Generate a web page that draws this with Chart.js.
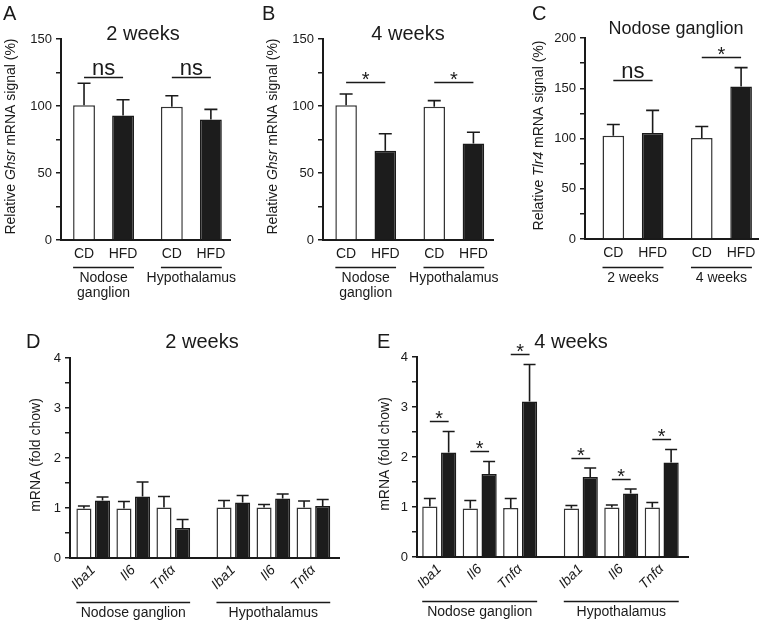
<!DOCTYPE html>
<html>
<head>
<meta charset="utf-8">
<script src="https://cdn.jsdelivr.net/npm/chart.js@4.4.1/dist/chart.umd.min.js"></script>
<style>
  body { margin: 0; background: #fff; }
  #fig { position: relative; width: 763px; height: 622px; overflow: hidden; background: #fff; }
  canvas { position: absolute; }
</style>
</head>
<body>
<div id="fig">
  <canvas id="cA" width="245" height="310" style="left:0;top:0"></canvas>
  <canvas id="cB" width="255" height="310" style="left:245px;top:0"></canvas>
  <canvas id="cC" width="263" height="310" style="left:500px;top:0"></canvas>
  <canvas id="cD" width="370" height="302" style="left:0;top:320px"></canvas>
  <canvas id="cE" width="393" height="302" style="left:370px;top:320px"></canvas>
</div>
<script>
// ---- data ----
var diets = ['CD', 'HFD', 'CD', 'HFD'];
var tissueGroups = [['Nodose', 'ganglion'], 'Hypothalamus'];
var weekGroups = ['2 weeks', '4 weeks'];

var ghsr2wk = [100.5, 93, 99.5, 90];
var ghsr2wkErr = [16.5, 11.7, 8.2, 7.5];
var sig2wk = ['ns', 'ns'];
var sig2wkAt = [122, 122];

var ghsr4wk = [100.5, 66.6, 99.5, 72];
var ghsr4wkErr = [8.5, 12.7, 4.5, 8.4];
var sig4wk = ['*', '*'];
var sig4wkAt = [118, 118];

var tlr4 = [102.8, 105.5, 100.5, 151.8];
var tlr4Err = [11.2, 22.5, 11.5, 18.7];
var sigTlr4 = ['ns', '*'];
var sigTlr4At = [158, 181];

var genes = ['Iba1', 'Il6', 'Tnfα', 'Iba1', 'Il6', 'Tnfα'];
var tissues = ['Nodose ganglion', 'Hypothalamus'];

var cd2wk = [0.99, 0.99, 1.01, 1.01, 1.01, 1.01];
var cd2wkErr = [0.05, 0.14, 0.22, 0.14, 0.06, 0.13];
var hfd2wk = [1.15, 1.23, 0.60, 1.11, 1.19, 1.04];
var hfd2wkErr = [0.07, 0.29, 0.17, 0.14, 0.09, 0.13];

var cd4wk = [1.01, 0.97, 0.98, 0.97, 0.99, 0.99];
var cd4wkErr = [0.16, 0.16, 0.19, 0.06, 0.05, 0.10];
var hfd4wk = [2.09, 1.66, 3.11, 1.60, 1.27, 1.89];
var hfd4wkErr = [0.42, 0.25, 0.74, 0.18, 0.09, 0.26];
var sig4wkGenes = ['*', '*', '*', '*', '*', '*'];
var sig4wkGenesAt = [2.73, 2.12, 4.06, 1.99, 1.56, 2.36];

// ---- styling ----
var FONT = "'Liberation Sans', Arial, Helvetica, sans-serif";
var INK = '#1a1a1a';
var WHITE = '#ffffff';
var BLACK = '#1c1c1c';

// bar slots: items side by side, an extra gap between groups
function slotPositions(n, perGroup, gap) {
    var xs = [];
    for (var i = 0; i < n; i++) {
        xs.push(Math.floor(i / perGroup) * (perGroup + gap) + (i % perGroup));
    }
    return xs;
}

function decoPlugin(cfg) {
    return {
        id: 'deco',
        afterDatasetsDraw: function(chart) {
            var ctx = chart.ctx, y = chart.scales.y;
            ctx.save();
            ctx.strokeStyle = INK;
            ctx.lineWidth = 1.6;
            chart.data.datasets.forEach(function(ds, di) {
                chart.getDatasetMeta(di).data.forEach(function(bar, i) {
                    var top = y.getPixelForValue(ds.data[i].y + ds.err[i]);
                    ctx.beginPath();
                    ctx.moveTo(bar.x, bar.y);
                    ctx.lineTo(bar.x, top);
                    ctx.moveTo(bar.x - cfg.cap / 2, top);
                    ctx.lineTo(bar.x + cfg.cap / 2, top);
                    ctx.stroke();
                });
            });
            ctx.restore();
        },
        afterDraw: function(chart) {
            var ctx = chart.ctx, ca = chart.chartArea, y = chart.scales.y;
            var bars = [];
            chart.data.datasets.forEach(function(ds, di) {
                chart.getDatasetMeta(di).data.forEach(function(b) { bars.push(b); });
            });
            bars.sort(function(a, b) { return a.x - b.x; });

            ctx.save();
            ctx.fillStyle = INK;
            ctx.strokeStyle = INK;

            // panel letter and title
            ctx.textAlign = 'left';
            ctx.textBaseline = 'alphabetic';
            ctx.font = '20px ' + FONT;
            ctx.fillText(cfg.letter, cfg.letterX, cfg.letterY);
            ctx.textAlign = 'center';
            ctx.font = cfg.titleSize + 'px ' + FONT;
            ctx.fillText(cfg.title, cfg.titleX, cfg.titleY);

            // y axis title, with italic gene name
            ctx.save();
            ctx.translate(cfg.yTitleX, (ca.top + ca.bottom) / 2 - 3);
            ctx.rotate(-Math.PI / 2);
            var fontOf = function(it) { return (it ? 'italic ' : '') + '14px ' + FONT; };
            var total = 0;
            cfg.yTitle.forEach(function(p) { ctx.font = fontOf(p[1]); total += ctx.measureText(p[0]).width; });
            var xx = -total / 2;
            ctx.textAlign = 'left';
            ctx.textBaseline = 'middle';
            cfg.yTitle.forEach(function(p) {
                ctx.font = fontOf(p[1]);
                ctx.fillText(p[0], xx, 0);
                xx += ctx.measureText(p[0]).width;
            });
            ctx.restore();

            // significance brackets over each CD/HFD pair
            ctx.textAlign = 'center';
            ctx.textBaseline = 'alphabetic';
            (cfg.sig || []).forEach(function(s, k) {
                if (!s) return;
                var a = bars[2 * k], b = bars[2 * k + 1];
                var ly = Math.round(y.getPixelForValue(cfg.sigAt[k])) + 0.5;
                ctx.lineWidth = 1.5;
                ctx.beginPath();
                ctx.moveTo(a.x, ly);
                ctx.lineTo(b.x, ly);
                ctx.stroke();
                var mid = (a.x + b.x) / 2;
                if (s === 'ns') {
                    ctx.font = '22px ' + FONT;
                    ctx.fillText(s, mid, ly - 3);
                } else {
                    ctx.font = '20px ' + FONT;
                    ctx.fillText(s, mid, ly + 3);
                }
            });

            // group underlines and names
            var per = bars.length / cfg.groups.length;
            cfg.groups.forEach(function(g, k) {
                var first = bars[k * per], last = bars[k * per + per - 1];
                var x0 = first.x - first.width / 2, x1 = last.x + last.width / 2;
                var gy = Math.round(ca.bottom + cfg.groupDy) + 0.5;
                ctx.lineWidth = 1.5;
                ctx.beginPath();
                ctx.moveTo(x0, gy);
                ctx.lineTo(x1, gy);
                ctx.stroke();
                ctx.font = '14px ' + FONT;
                ctx.textBaseline = 'middle';
                var lines = Array.isArray(g) ? g : [g];
                lines.forEach(function(t, j) { ctx.fillText(t, (x0 + x1) / 2, gy + 11 + j * 15); });
            });
            ctx.restore();
        }
    };
}

function panel(id, cfg) {
    var xs = slotPositions(cfg.labels.length, cfg.perGroup, cfg.gap);
    var datasets = cfg.series.map(function(s) {
        return {
            data: s.values.map(function(v, i) { return { x: xs[i], y: v }; }),
            err: s.err,
            backgroundColor: s.fill,
            borderColor: s.edge,
            borderWidth: 1.5,
            barPercentage: cfg.barPct,
            categoryPercentage: cfg.catPct
        };
    });
    return new Chart(document.getElementById(id), {
        type: 'bar',
        data: { datasets: datasets },
        options: {
            responsive: false,
            animation: false,
            layout: { padding: cfg.padding },
            plugins: { legend: { display: false }, tooltip: { enabled: false } },
            scales: {
                x: {
                    type: 'linear',
                    min: cfg.xMin,
                    max: cfg.xMax,
                    offset: false,
                    afterBuildTicks: function(s) { s.ticks = xs.map(function(v) { return { value: v }; }); },
                    afterFit: function(s) { s.height = cfg.xAxisH; },
                    grid: { display: false, drawTicks: false, offset: false },
                    border: { color: INK, width: 2 },
                    ticks: {
                        autoSkip: false,
                        minRotation: cfg.rot,
                        maxRotation: cfg.rot,
                        padding: cfg.xPad,
                        color: INK,
                        font: { family: FONT, size: 14, style: cfg.italic ? 'italic' : 'normal' },
                        callback: function(v, i) { return cfg.labels[i]; }
                    }
                },
                y: {
                    min: 0,
                    max: cfg.yMax,
                    afterFit: function(s) { s.width = cfg.yAxisW; },
                    border: { color: INK, width: 2 },
                    grid: { drawOnChartArea: false, tickLength: 5, color: INK, lineWidth: 1.5 },
                    ticks: {
                        stepSize: cfg.yStep / 2,
                        padding: 4,
                        color: INK,
                        font: { family: FONT, size: 13 },
                        callback: function(v) {
                            var r = v / cfg.yStep;
                            return Math.abs(r - Math.round(r)) < 1e-9 ? v : '';
                        }
                    }
                }
            }
        },
        plugins: [decoPlugin(cfg)]
    });
}

function dietColors(list, white, black) {
    return list.map(function(d) { return d === 'CD' ? white : black; });
}

var ghsrTitle = [['Relative ', false], ['Ghsr', true], [' mRNA signal (%)', false]];

panel('cA', {
    labels: diets, perGroup: 2, gap: 0.25, xMin: -0.59, xMax: 3.74,
    series: [{ values: ghsr2wk, err: ghsr2wkErr, fill: dietColors(diets, WHITE, BLACK), edge: dietColors(diets, '#333', INK) }],
    barPct: 0.56, catPct: 1, cap: 13,
    padding: { left: 0, right: 15, top: 39, bottom: 45 }, yAxisW: 61, xAxisH: 25, xPad: 6, rot: 0,
    yMax: 150, yStep: 50,
    letter: 'A', letterX: 3, letterY: 20,
    title: '2 weeks', titleX: 143, titleY: 40, titleSize: 20,
    yTitle: ghsrTitle, yTitleX: 11,
    sig: sig2wk, sigAt: sig2wkAt,
    groups: tissueGroups, groupDy: 27
});

panel('cB', {
    labels: diets, perGroup: 2, gap: 0.25, xMin: -0.59, xMax: 3.75,
    series: [{ values: ghsr4wk, err: ghsr4wkErr, fill: dietColors(diets, WHITE, BLACK), edge: dietColors(diets, '#333', INK) }],
    barPct: 0.55, catPct: 1, cap: 13,
    padding: { left: 0, right: 7, top: 39, bottom: 45 }, yAxisW: 78, xAxisH: 25, xPad: 6, rot: 0,
    yMax: 150, yStep: 50,
    letter: 'B', letterX: 17, letterY: 20,
    title: '4 weeks', titleX: 163, titleY: 40, titleSize: 20,
    yTitle: ghsrTitle, yTitleX: 28,
    sig: sig4wk, sigAt: sig4wkAt,
    groups: tissueGroups, groupDy: 27
});

panel('cC', {
    labels: diets, perGroup: 2, gap: 0.25, xMin: -0.72, xMax: 3.68,
    series: [{ values: tlr4, err: tlr4Err, fill: dietColors(diets, WHITE, BLACK), edge: dietColors(diets, '#333', INK) }],
    barPct: 0.55, catPct: 1, cap: 13,
    padding: { left: 0, right: 5, top: 38, bottom: 46 }, yAxisW: 85, xAxisH: 25, xPad: 6, rot: 0,
    yMax: 200, yStep: 50,
    letter: 'C', letterX: 32, letterY: 20,
    title: 'Nodose ganglion', titleX: 176, titleY: 34, titleSize: 18,
    yTitle: [['Relative ', false], ['Tlr4', true], [' mRNA signal (%)', false]], yTitleX: 39,
    sig: sigTlr4, sigAt: sigTlr4At,
    groups: weekGroups, groupDy: 28
});

panel('cD', {
    labels: genes, perGroup: 3, gap: 0.5, xMin: -0.58, xMax: 6.14,
    series: [
        { values: cd2wk, err: cd2wkErr, fill: WHITE, edge: '#333' },
        { values: hfd2wk, err: hfd2wkErr, fill: BLACK, edge: INK }
    ],
    barPct: 0.81, catPct: 0.93, cap: 12,
    padding: { left: 0, right: 31, top: 38, bottom: 24 }, yAxisW: 70, xAxisH: 40, xPad: 4, rot: 45, italic: true,
    yMax: 4, yStep: 1,
    letter: 'D', letterX: 26, letterY: 28,
    title: '2 weeks', titleX: 202, titleY: 28, titleSize: 20,
    yTitle: [['mRNA (fold chow)', false]], yTitleX: 36,
    sig: [], sigAt: [],
    groups: tissues, groupDy: 44
});

panel('cE', {
    labels: genes, perGroup: 3, gap: 0.5, xMin: -0.55, xMax: 6.15,
    series: [
        { values: cd4wk, err: cd4wkErr, fill: WHITE, edge: '#333' },
        { values: hfd4wk, err: hfd4wkErr, fill: BLACK, edge: INK }
    ],
    barPct: 0.81, catPct: 0.93, cap: 12,
    padding: { left: 0, right: 75, top: 37, bottom: 25 }, yAxisW: 47, xAxisH: 40, xPad: 4, rot: 45, italic: true,
    yMax: 4, yStep: 1,
    letter: 'E', letterX: 7, letterY: 28,
    title: '4 weeks', titleX: 201, titleY: 28, titleSize: 20,
    yTitle: [['mRNA (fold chow)', false]], yTitleX: 15,
    sig: sig4wkGenes, sigAt: sig4wkGenesAt,
    groups: tissues, groupDy: 44
});
</script>
</body>
</html>
